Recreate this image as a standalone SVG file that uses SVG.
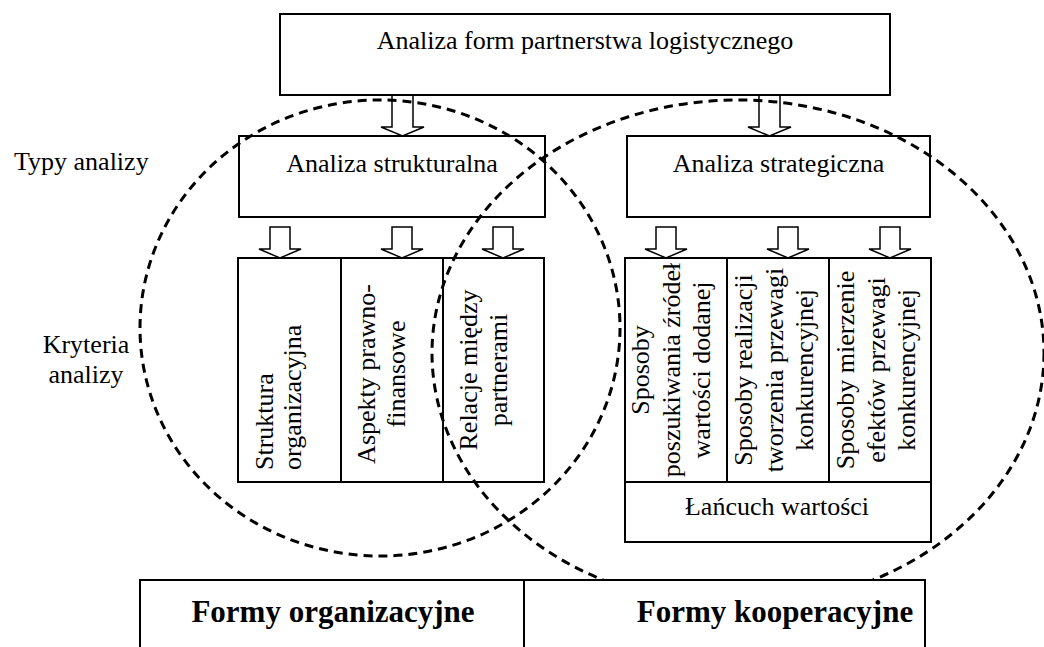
<svg xmlns="http://www.w3.org/2000/svg" width="1044" height="647" viewBox="0 0 1044 647">
  <style>
    .box { fill: none; stroke: #000; stroke-width: 2; }
    .fillbox { fill: #fff; stroke: #000; stroke-width: 2; }
    .arrow { fill: #fff; stroke: #000; stroke-width: 1.5; stroke-linejoin: miter; }
    .ring { fill: none; stroke: #000; stroke-width: 3; stroke-dasharray: 9 6; }
    .t { font-family: "Liberation Serif", "Times New Roman", serif; font-size: 26px; fill: #000; }
    .m { text-anchor: middle; }
    .b { font-family: "Liberation Serif", "Times New Roman", serif; font-size: 31px; font-weight: bold; fill: #000; text-anchor: middle; }
  </style>
  <defs>
    <!-- hollow block arrow, tip at origin, pointing down -->
    <path id="blk" d="M-10,-31 L10,-31 L10,-9 L21,-9 L0,0 L-21,-9 L-10,-9 Z"/>
  </defs>
  <rect width="1044" height="647" fill="#fff"/>

  <!-- connectors -->
  <g id="connectors" class="arrow">
    <path d="M392,95 L413,95 L413,127 L424,127 L402.5,136 L381,127 L392,127 Z"/>
    <path d="M759,95 L780,95 L780,127 L791,127 L769.5,136 L748,127 L759,127 Z"/>
    <use href="#blk" x="280" y="258"/>
    <use href="#blk" x="402" y="258"/>
    <use href="#blk" x="503" y="258"/>
    <use href="#blk" x="666" y="258"/>
    <use href="#blk" x="788" y="258"/>
    <use href="#blk" x="890" y="258"/>
  </g>

  <!-- top node -->
  <g id="node-root">
    <rect class="box" x="280" y="14" width="610" height="81"/>
    <text class="t m" x="585" y="49">Analiza form partnerstwa logistycznego</text>
  </g>

  <!-- row labels -->
  <g id="label-types">
    <text class="t" x="14" y="170">Typy analizy</text>
  </g>
  <g id="label-criteria">
    <text class="t m" x="86" y="353">Kryteria</text>
    <text class="t m" x="86" y="383">analizy</text>
  </g>

  <!-- analysis types -->
  <g id="node-structural">
    <rect class="box" x="239" y="136" width="306" height="81"/>
    <text class="t m" x="392" y="172">Analiza strukturalna</text>
  </g>
  <g id="node-strategic">
    <rect class="box" x="627" y="136" width="303" height="81"/>
    <text class="t m" x="778.5" y="172">Analiza strategiczna</text>
  </g>

  <!-- structural criteria -->
  <g id="node-organization">
    <rect class="box" x="238" y="258" width="103" height="224"/>
    <text class="t" transform="translate(273,470) rotate(-90)">Struktura</text>
    <text class="t" transform="translate(301,470) rotate(-90)">organizacyjna</text>
  </g>
  <g id="node-legal">
    <rect class="box" x="341" y="258" width="102" height="224"/>
    <text class="t m" transform="translate(375,374) rotate(-90)">Aspekty prawno-</text>
    <text class="t m" transform="translate(405,374) rotate(-90)">finansowe</text>
  </g>
  <g id="node-relations">
    <rect class="box" x="443" y="258" width="101" height="224"/>
    <text class="t m" transform="translate(477,370) rotate(-90)">Relacje między</text>
    <text class="t m" transform="translate(507,370) rotate(-90)">partnerami</text>
  </g>

  <!-- strategic criteria -->
  <g id="node-sources">
    <rect class="box" x="625" y="258" width="102" height="224"/>
    <text class="t m" transform="translate(649,370) rotate(-90)">Sposoby</text>
    <text class="t m" transform="translate(680,370) rotate(-90)">poszukiwania  źródeł</text>
    <text class="t m" transform="translate(710,370) rotate(-90)">wartości dodanej</text>
  </g>
  <g id="node-realization">
    <rect class="box" x="727" y="258" width="102" height="224"/>
    <text class="t m" transform="translate(752,370) rotate(-90)">Sposoby realizacji</text>
    <text class="t m" transform="translate(783,370) rotate(-90)">tworzenia przewagi</text>
    <text class="t m" transform="translate(813,370) rotate(-90)">konkurencyjnej</text>
  </g>
  <g id="node-measurement">
    <rect class="box" x="829" y="258" width="102" height="224"/>
    <text class="t m" transform="translate(854,370) rotate(-90)">Sposoby mierzenie</text>
    <text class="t m" transform="translate(885,370) rotate(-90)">efektów przewagi</text>
    <text class="t m" transform="translate(915,370) rotate(-90)">konkurencyjnej</text>
  </g>
  <g id="node-value-chain">
    <rect class="box" x="625" y="482" width="306" height="60"/>
    <text class="t m" x="777" y="515">Łańcuch wartości</text>
  </g>

  <!-- dashed scope rings -->
  <g id="rings">
    <ellipse class="ring" cx="380" cy="328" rx="240" ry="228"/>
    <ellipse class="ring" cx="738" cy="353" rx="306" ry="253"/>
  </g>

  <!-- resulting forms -->
  <g id="node-forms-org">
    <rect class="fillbox" x="140" y="580" width="384" height="80"/>
    <text class="b" x="333" y="622">Formy organizacyjne</text>
  </g>
  <g id="node-forms-coop">
    <rect class="fillbox" x="524" y="580" width="401" height="80"/>
    <text class="b" x="775" y="622">Formy kooperacyjne</text>
  </g>
</svg>
